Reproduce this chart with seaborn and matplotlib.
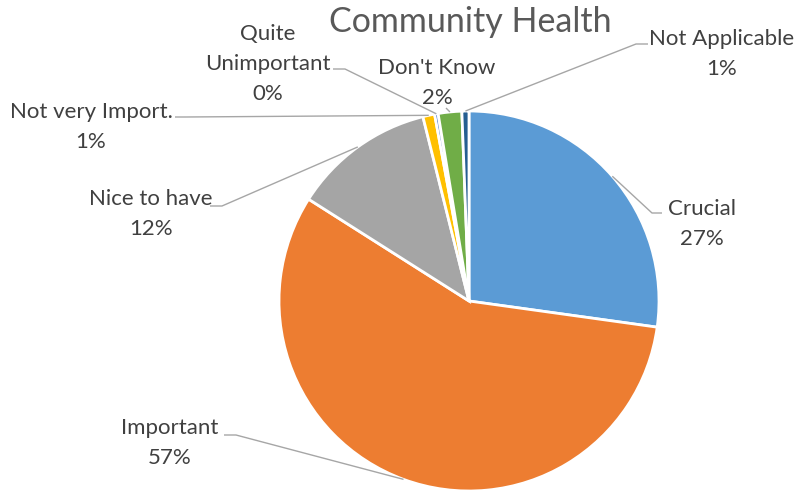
import numpy as np
import matplotlib
matplotlib.use("Agg")
import matplotlib.pyplot as plt
import seaborn as sns

sns.set_theme(style="white")
plt.rcParams['font.family'] = ['Lato', 'DejaVu Sans']

# data (percent of responses)
categories = ["Crucial", "Important", "Nice to have", "Not very Import.",
              "Quite\nUnimportant", "Don't Know", "Not Applicable"]
shares = [27.2, 56.8, 12.1, 1.0, 0.3, 2.0, 0.6]
colors = ["#5B9BD5", "#ED7D31", "#A5A5A5", "#FFC000",
          "#4472C4", "#70AD47", "#255E91"]

W, H = 798, 494
TXT = "#404040"
TITLE = "#595959"
LEAD = "#A6A6A6"

fig = plt.figure(figsize=(W / 100, H / 100), dpi=100)
ax = fig.add_axes([0, 0, 1, 1])

cx, cy, R = 469, H - 301, 190
wedges, _ = ax.pie(shares, colors=colors, startangle=90, counterclock=False,
                   center=(cx, cy), radius=R,
                   wedgeprops=dict(edgecolor="white", linewidth=2))
ax.set_xlim(0, W)
ax.set_ylim(0, H)
ax.set_aspect("equal")
ax.axis("off")

# label layout in pixel coords (y down): text centre, elbow, line end
layout = [
    ((702, 224), (652, 213), (662, 213)),
    ((170, 443), (236, 435), (224, 435)),
    ((151, 214), (222, 206), (210, 206)),
    ((91, 127), (185, 117), (175, 117)),
    ((268, 64), (345, 69), (333, 69)),
    ((437, 83), None, (446, 108)),
    ((722, 54), (636, 44), (648, 44)),
]

for w, name, v, (txt, elbow, end) in zip(wedges, categories, shares, layout):
    mid = np.deg2rad((w.theta1 + w.theta2) / 2)
    ex, ey = cx + R * np.cos(mid), cy + R * np.sin(mid)
    xs, ys = [ex], [ey]
    if elbow is not None:
        xs.append(elbow[0]); ys.append(H - elbow[1])
    xs.append(end[0]); ys.append(H - end[1])
    ax.plot(xs, ys, color=LEAD, lw=1.0, solid_capstyle="butt", zorder=1)
    ax.text(txt[0], H - txt[1], f"{name}\n{round(v)}%", ha="center", va="center",
            multialignment="center", fontsize=16, color=TXT, linespacing=1.6)

ax.text(470, H - 22, "Community Health", ha="center", va="center",
        fontsize=24.5, color=TITLE)

fig.savefig("out.png", dpi=100)
